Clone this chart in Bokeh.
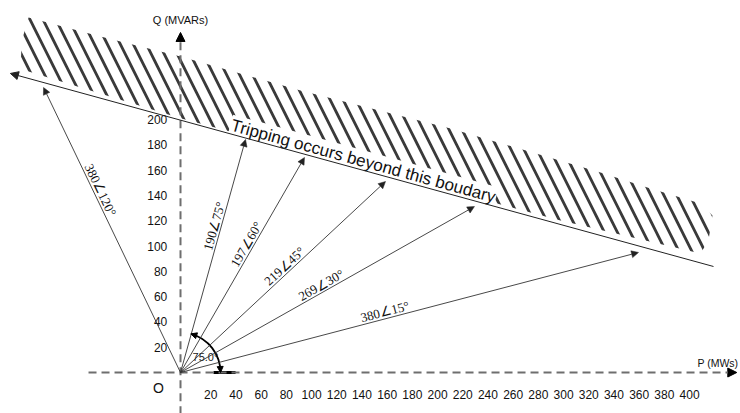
import math
from bokeh.plotting import figure
from bokeh.models import Range1d, Arrow, NormalHead, ColumnDataSource
from bokeh.core.properties import value
from bokeh.embed import file_html
from bokeh.resources import INLINE

# ---------------- data ----------------
p_ticks = [20, 40, 60, 80, 100, 120, 140, 160, 180, 200,
           220, 240, 260, 280, 300, 320, 340, 360, 380, 400]
q_ticks = [20, 40, 60, 80, 100, 120, 140, 160, 180, 200]

vector_labels = ["190\u222075\u00b0", "197\u222060\u00b0", "219\u222045\u00b0",
                 "269\u222030\u00b0", "380\u222015\u00b0", "380\u2220120\u00b0"]
vector_p = [51.6, 98.4, 162.7, 233.3, 363.5, -108.7]   # tip P (MW)
vector_q = [184.2, 170.0, 151.0, 131.2, 94.9, 225.3]   # tip Q (MVAR)
label_frac = [0.62, 0.58, 0.53, 0.49, 0.45, 0.63]

boundary_p = [423.0, -135.0]
boundary_q = [83.8, 236.4]
boundary_text = "Tripping occurs beyond this boudary"

trip_zone_p = [-120.6, -63.5, 0.0, 95.2, 214.3, 333.3, 373.0, 412.7, 422.2, 419.0,
               412.7, 300.0, 0.0, -127.0, -126.0]
trip_zone_q = [280.6, 265.6, 249.8, 222.9, 192.9, 158.1, 145.5, 133.6, 124.1, 104.3,
               94.1, 120.5, 201.0, 240.0, 262.0]

arc_deg = 75.0
arc_label = "75.0\u00b0"

# ---------------- figure ----------------
W, H = 740, 413
x0, x1 = -142.86, 444.44
y0, y1 = -32.41, 294.07
sx = W / (x1 - x0)
sy = H / (y1 - y0)

p = figure(width=W, height=H, x_range=Range1d(x0, x1), y_range=Range1d(y0, y1),
           output_backend="svg", toolbar_location=None,
           x_axis_location=None, y_axis_location=None, min_border=0)
p.outline_line_color = None
p.grid.visible = False
p.background_fill_color = "white"
p.border_fill_color = "white"

# hatched trip region
p.patch(x=trip_zone_p, y=trip_zone_q, fill_color=None, line_color=None,
        hatch_pattern="\\", hatch_color="#3a3a3a", hatch_weight=2.8, hatch_scale=26)

# axes (dashed with arrows)
axis_color = "#6e6e6e"
p.add_layout(Arrow(x_start=-73, y_start=0, x_end=441.5, y_end=0,
                   line_color=axis_color, line_width=2, line_dash="8 5",
                   end=NormalHead(size=9, fill_color="black", line_color="black")))
p.add_layout(Arrow(x_start=0, y_start=-33, x_end=0, y_end=268.8,
                   line_color=axis_color, line_width=2, line_dash="8 5",
                   end=NormalHead(size=9, fill_color="black", line_color="black")))

# boundary line with arrow at left
p.add_layout(Arrow(x_start=boundary_p[0], y_start=boundary_q[0],
                   x_end=boundary_p[1], y_end=boundary_q[1],
                   line_color="#222222", line_width=1,
                   end=NormalHead(size=8, fill_color="#222222", line_color="#222222")))

# vectors
vsrc = ColumnDataSource(dict(xs=[0] * len(vector_p), ys=[0] * len(vector_p),
                             xe=vector_p, ye=vector_q))
p.add_layout(Arrow(x_start="xs", y_start="ys", x_end="xe", y_end="ye", source=vsrc,
                   line_color="#333333", line_width=0.9,
                   end=NormalHead(size=7, fill_color="#222222", line_color="#222222",
                                  line_width=0.5)))

# vector labels
lx, ly, la = [], [], []
for vp, vq, t in zip(vector_p, vector_q, label_frac):
    a = math.atan2(vq * sy, vp * sx)
    if a > math.pi / 2:
        a -= math.pi
    ux, uy = -math.sin(a), math.cos(a)
    d = 7.0
    lx.append(t * vp + d * ux / sx)
    ly.append(t * vq + d * uy / sy)
    la.append(a)
p.text(x=lx, y=ly, text=vector_labels, angle=la,
       text_font=value("Liberation Serif"), text_font_size=value("13px"),
       text_align="center", text_baseline="middle", text_color="#111111")

# boundary text (white box over the hatching)
ba = math.atan2((boundary_q[1] - boundary_q[0]) * sy, (boundary_p[1] - boundary_p[0]) * sx)
ba = ba - math.pi if ba > math.pi / 2 else ba
p.text(x=[145.0], y=[167.0], text=[boundary_text], angle=[ba],
       text_font=value("Liberation Sans"), text_font_size=value("17px"),
       text_align="center", text_baseline="alphabetic", text_color="#111111",
       background_fill_color="white", padding=1)

# angle arc
p.arc(x=0, y=0, radius=40, radius_units="screen", start_angle=0,
      end_angle=math.radians(arc_deg), line_color="black", line_width=1.8)
r = 40
def arc_pt(deg):
    return r * math.cos(math.radians(deg)) / sx, r * math.sin(math.radians(deg)) / sy
for da, db in [(6, 0), (arc_deg - 6, arc_deg)]:
    (xa, ya), (xb, yb) = arc_pt(da), arc_pt(db)
    p.add_layout(Arrow(x_start=xa, y_start=ya, x_end=xb, y_end=yb, line_alpha=0,
                       end=NormalHead(size=6, fill_color="black", line_color="black")))
p.line(x=[26.2, 43.7], y=[0, 0], line_color="black", line_width=3)
p.text(x=[19.8], y=[11.9], text=[arc_label], text_font=value("Liberation Sans"),
       text_font_size=value("11px"), text_align="center", text_baseline="middle",
       text_color="#222222")

# tick labels
p.text(x=[v + 4 for v in p_ticks], y=[-17.4] * len(p_ticks), text=[str(v) for v in p_ticks],
       text_font=value("Liberation Sans"), text_font_size=value("12px"),
       text_align="center", text_baseline="middle", text_color="#111111")
p.text(x=[-10.5] * len(q_ticks), y=q_ticks, text=[str(v) for v in q_ticks],
       text_font=value("Liberation Sans"), text_font_size=value("12px"),
       text_align="right", text_baseline="middle", text_color="#111111")

# axis titles and origin
p.text(x=[0], y=[279], text=["Q (MVARs)"], text_font=value("Liberation Sans"),
       text_font_size=value("11px"), text_align="center", text_baseline="middle",
       text_color="#111111")
p.text(x=[410.3], y=[7.9], text=["P (MWs)"], text_font=value("Liberation Sans"),
       text_font_size=value("10.5px"), text_align="left", text_baseline="middle",
       text_color="#111111")
p.text(x=[-17.5], y=[-11.9], text=["O"], text_font=value("Liberation Sans"),
       text_font_size=value("14px"), text_align="center", text_baseline="middle",
       text_color="#111111")

open("out.html", "w").write(file_html(p, INLINE))
